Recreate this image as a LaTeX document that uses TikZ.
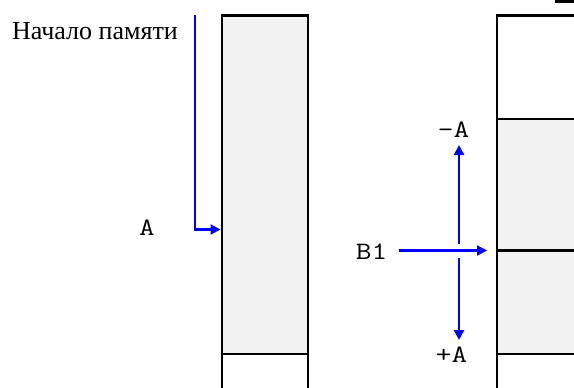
\documentclass[tikz,border=0pt]{standalone}
\usepackage{fontspec}
\usepackage{graphicx}
\setmainfont{Liberation Serif}
\usetikzlibrary{arrows.meta}
\definecolor{cellgray}{RGB}{242,242,242}
\definecolor{ptrblue}{RGB}{0,0,255}
\newcommand{\mono}[1]{\scalebox{1.22}[1]{\ttfamily\fontsize{25}{29}\selectfont #1}}
\tikzset{
  wall/.style={draw=black,line width=2.4pt},
  ptr/.style={draw=ptrblue,line width=2.2pt,-{Triangle[length=10pt,width=10pt]}},
  monolabel/.style={inner sep=0pt,anchor=base},
  seriflabel/.style={font=\fontsize{26}{30}\selectfont,inner sep=0pt,anchor=base}
}
\begin{document}
\begin{tikzpicture}[x=1pt,y=-1pt]
\useasboundingbox (0,0) rectangle (574,388);
\clip (0,0) rectangle (574,388);
% left column
\fill[cellgray] (222,15.5) rectangle (308,354);
\draw[wall] (222,390) -- (222,15.5) -- (308,15.5) -- (308,390);
\draw[wall] (222,354) -- (308,354);
% right column
\fill[cellgray] (497,119) rectangle (580,354);
\draw[wall] (497,390) -- (497,15.5) -- (580,15.5);
\draw[wall] (497,119) -- (580,119);
\draw[wall] (497,250.5) -- (580,250.5);
\draw[wall] (497,354) -- (580,354);
% partial box at top right
\draw[wall] (556,-5) -- (556,1.5) -- (580,1.5);
% labels
\node[seriflabel] (start) at (95,39.3) {Начало памяти};
\node[monolabel] (a) at (147,235.5) {\mono{A}};
\node[monolabel] (b1) at (371.5,259.3) {\mono{B1}};
\node[monolabel] (minusa) at (453.5,137) {\mono{-A}};
\node[monolabel] (plusa) at (451.5,362) {\mono{+A}};
% coordinates
\coordinate (stop) at (195,15);
\coordinate (bend) at (195,229.5);
\coordinate (acell) at (220.5,229.5);
\coordinate (b1start) at (399,250.5);
\coordinate (b1cell) at (487,250.5);
\coordinate (upstart) at (459,244);
\coordinate (uptip) at (459,145);
\coordinate (downstart) at (459,258);
\coordinate (downtip) at (459,340);
% connectors
\draw[ptr] (stop) -- (bend) -- (acell);
\draw[ptr] (b1start) -- (b1cell);
\draw[ptr] (upstart) -- (uptip);
\draw[ptr] (downstart) -- (downtip);
\end{tikzpicture}
\end{document}
